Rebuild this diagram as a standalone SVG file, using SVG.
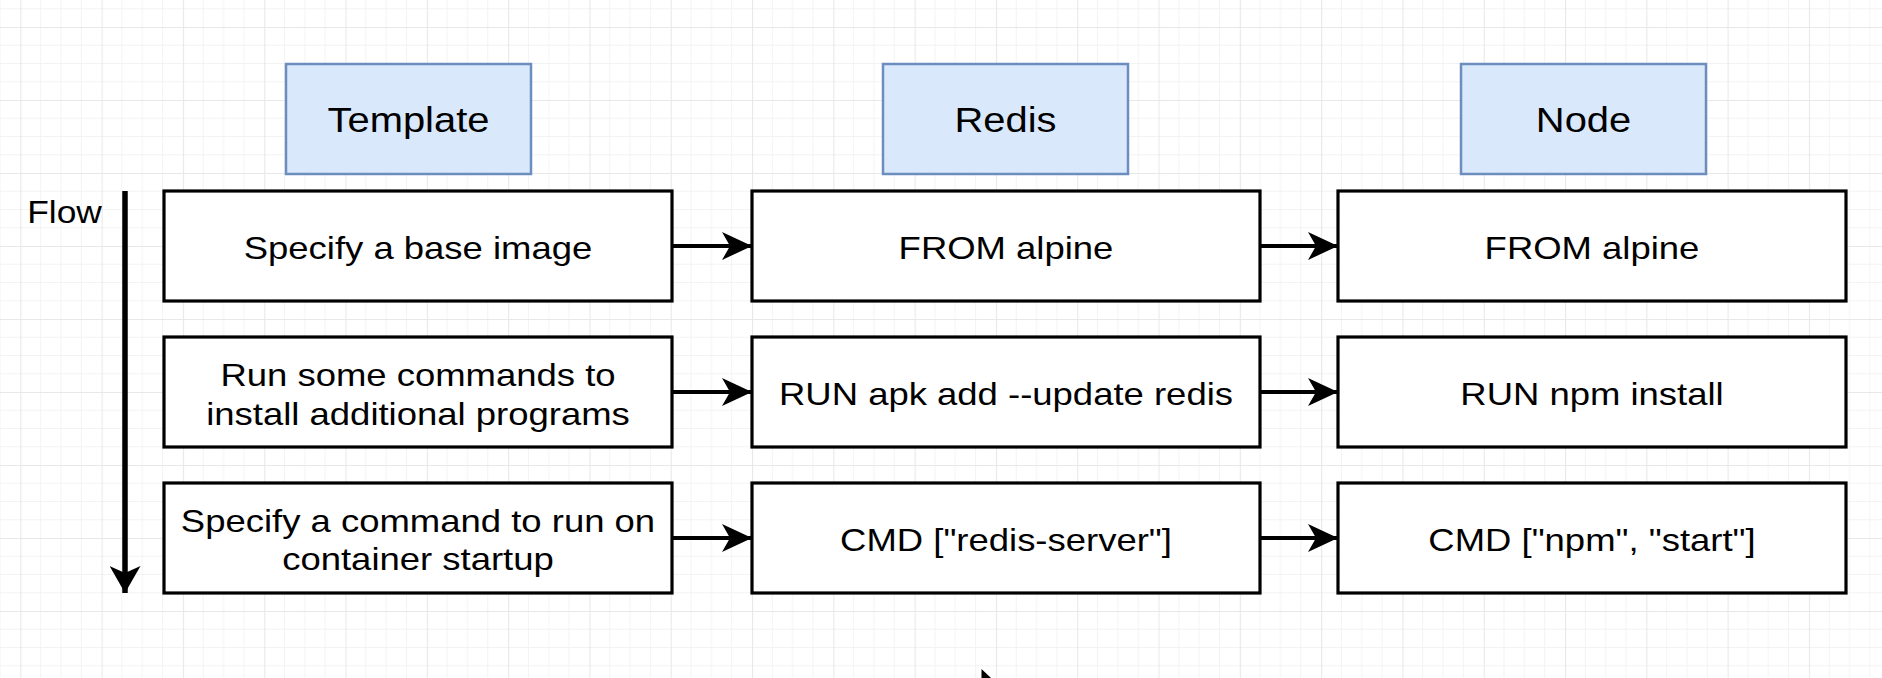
<svg xmlns="http://www.w3.org/2000/svg" width="1882" height="678" viewBox="0 0 1882 678">
  <style>
    .hdr rect { fill: #dae8fc; stroke: #6c8ebf; stroke-width: 2.5; }
    .step rect { fill: #ffffff; stroke: #000000; stroke-width: 3.2; }
    text { font-family: "Liberation Sans", Arial, Helvetica, sans-serif; fill: #000000; text-anchor: middle; }
    .ht { font-size: 35px; }
    .bt { font-size: 32px; }
    .ft { font-size: 31px; }
    .conn line { stroke: #000000; fill: none; }
  </style>
  <defs>
    <pattern id="grid" patternUnits="userSpaceOnUse" x="20.3" y="27" width="81.3" height="73">
      <g stroke="#f3f3f3" stroke-width="1">
        <line x1="20.33" y1="0" x2="20.33" y2="73"/>
        <line x1="40.65" y1="0" x2="40.65" y2="73"/>
        <line x1="60.98" y1="0" x2="60.98" y2="73"/>
        <line x1="0" y1="18.25" x2="81.3" y2="18.25"/>
        <line x1="0" y1="36.5" x2="81.3" y2="36.5"/>
        <line x1="0" y1="54.75" x2="81.3" y2="54.75"/>
      </g>
      <g stroke="#e8e8e8" stroke-width="1.2">
        <line x1="0.5" y1="0" x2="0.5" y2="73"/>
        <line x1="0" y1="0.5" x2="81.3" y2="0.5"/>
      </g>
    </pattern>
    <marker id="ah" markerUnits="userSpaceOnUse" markerWidth="30" markerHeight="28" viewBox="0 0 30 28" refX="30" refY="14" orient="auto">
      <path d="M0,0 L30,14 L0,28 L8,14 Z" fill="#000000"/>
    </marker>
    <marker id="av" markerUnits="userSpaceOnUse" markerWidth="27" markerHeight="31" viewBox="0 0 27 31" refX="27" refY="15.5" orient="auto">
      <path d="M0,0 L27,15.5 L0,31 L7,15.5 Z" fill="#000000"/>
    </marker>
  </defs>

  <rect x="0" y="0" width="1882" height="678" fill="#ffffff"/>
  <rect x="0" y="0" width="1882" height="678" fill="url(#grid)"/>

  <!-- Column headers -->
  <g id="hdr-template" class="hdr">
    <rect x="286" y="64" width="245" height="110"/>
    <g transform="translate(408.5,132) scale(1.14,1)"><text class="ht" x="0" y="0">Template</text></g>
  </g>
  <g id="hdr-redis" class="hdr">
    <rect x="883" y="64" width="245" height="110"/>
    <g transform="translate(1005.5,132) scale(1.14,1)"><text class="ht" x="0" y="0">Redis</text></g>
  </g>
  <g id="hdr-node" class="hdr">
    <rect x="1461" y="64" width="245" height="110"/>
    <g transform="translate(1583.5,132) scale(1.14,1)"><text class="ht" x="0" y="0">Node</text></g>
  </g>

  <!-- Flow label -->
  <g id="flow-label">
    <g transform="translate(64.5,223) scale(1.14,1)"><text class="ft" x="0" y="0">Flow</text></g>
  </g>

  <!-- Template column -->
  <g id="t1" class="step">
    <rect x="164" y="191" width="508" height="110"/>
    <g transform="translate(418,259) scale(1.14,1)"><text class="bt" x="0" y="0">Specify a base image</text></g>
  </g>
  <g id="t2" class="step">
    <rect x="164" y="337" width="508" height="110"/>
    <g transform="translate(418,0) scale(1.14,1)"><text class="bt" x="0" y="386.5">Run some commands to<tspan x="0" dy="38.4">install additional programs</tspan></text></g>
  </g>
  <g id="t3" class="step">
    <rect x="164" y="483" width="508" height="110"/>
    <g transform="translate(418,0) scale(1.14,1)"><text class="bt" x="0" y="532">Specify a command to run on<tspan x="0" dy="38.4">container startup</tspan></text></g>
  </g>

  <!-- Redis column -->
  <g id="r1" class="step">
    <rect x="752" y="191" width="508" height="110"/>
    <g transform="translate(1006,259) scale(1.14,1)"><text class="bt" x="0" y="0">FROM alpine</text></g>
  </g>
  <g id="r2" class="step">
    <rect x="752" y="337" width="508" height="110"/>
    <g transform="translate(1006,405) scale(1.14,1)"><text class="bt" x="0" y="0">RUN apk add --update redis</text></g>
  </g>
  <g id="r3" class="step">
    <rect x="752" y="483" width="508" height="110"/>
    <g transform="translate(1006,551) scale(1.14,1)"><text class="bt" x="0" y="0">CMD ["redis-server"]</text></g>
  </g>

  <!-- Node column -->
  <g id="n1" class="step">
    <rect x="1338" y="191" width="508" height="110"/>
    <g transform="translate(1592,259) scale(1.14,1)"><text class="bt" x="0" y="0">FROM alpine</text></g>
  </g>
  <g id="n2" class="step">
    <rect x="1338" y="337" width="508" height="110"/>
    <g transform="translate(1592,405) scale(1.14,1)"><text class="bt" x="0" y="0">RUN npm install</text></g>
  </g>
  <g id="n3" class="step">
    <rect x="1338" y="483" width="508" height="110"/>
    <g transform="translate(1592,551) scale(1.14,1)"><text class="bt" x="0" y="0">CMD ["npm", "start"]</text></g>
  </g>

  <!-- Connectors -->
  <g id="connectors" class="conn">
    <line x1="125" y1="191" x2="125" y2="593" stroke-width="5.5" marker-end="url(#av)"/>
    <line x1="672" y1="246" x2="752" y2="246" stroke-width="4" marker-end="url(#ah)"/>
    <line x1="672" y1="392" x2="752" y2="392" stroke-width="4" marker-end="url(#ah)"/>
    <line x1="672" y1="538" x2="752" y2="538" stroke-width="4" marker-end="url(#ah)"/>
    <line x1="1260" y1="246" x2="1338" y2="246" stroke-width="4" marker-end="url(#ah)"/>
    <line x1="1260" y1="392" x2="1338" y2="392" stroke-width="4" marker-end="url(#ah)"/>
    <line x1="1260" y1="538" x2="1338" y2="538" stroke-width="4" marker-end="url(#ah)"/>
  </g>

  <!-- mouse pointer tip at bottom edge -->
  <path d="M981.5,669 L981.5,678 L991,678 Z" fill="#000000"/>
</svg>
